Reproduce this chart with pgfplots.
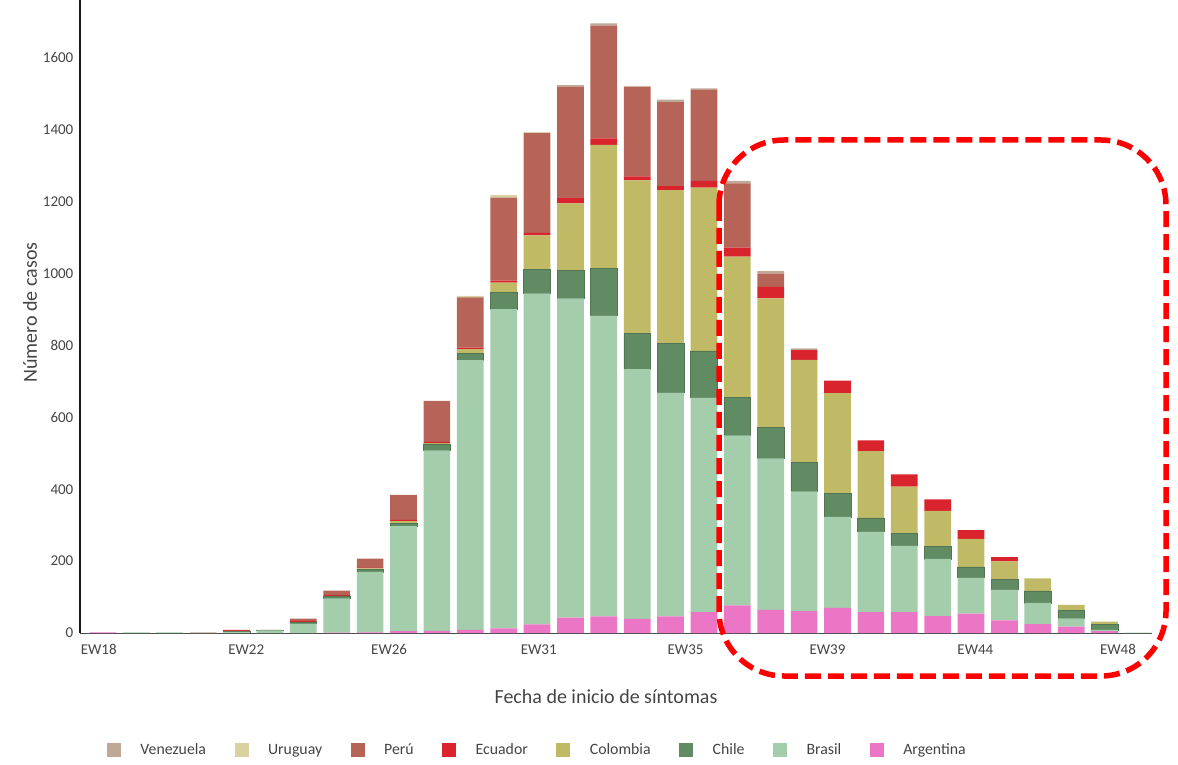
\documentclass[border=0pt]{standalone}
\usepackage{fontspec}
\setmainfont{Carlito}
\usepackage{pgfplots}
\usepackage{pgfplotstable}
\pgfplotsset{compat=1.18}

\definecolor{cven}{HTML}{BFA896}
\definecolor{curu}{HTML}{D9D19F}
\definecolor{cper}{HTML}{B56457}
\definecolor{cecu}{HTML}{D9242E}
\definecolor{ccol}{HTML}{C0BA66}
\definecolor{cchi}{HTML}{618B62}
\definecolor{cbra}{HTML}{A3CDAB}
\definecolor{carg}{HTML}{EB76C6}
\definecolor{txtgray}{HTML}{444444}

% casos por semana epidemiologica (k = 0 -> EW18)
\pgfplotstableread{
k  arg bra chi col ecu per uru ven
0  2   0   0   0   0   0   0   0
1  0   2   0   0   0   0   0   0
2  0   2   0   0   0   0   0   0
3  0   0   0   0   0   0   0   2
4  0   3   1   2   3   0   0   0
5  0   7   2   0   0   0   0   0
6  0   26  4   0   4   6   0   0
7  1   95  7   0   3   12  0   0
8  2   168 8   2   1   26  0   0
9  5   292 8   6   4   69  0   0
10 6   502 18  2   4   114 0   0
11 9   750 18  13  4   140 4   0
12 13  888 46  28  5   231 7   0
13 24  921 67  94  7   278 2   0
14 43  888 78  186 15  310 0   4
15 46  837 132 343 18  314 0   6
16 39  695 100 425 11  250 2   0
17 46  623 137 426 11  234 0   7
18 58  597 130 454 19  253 0   4
19 77  473 105 392 25  179 0   7
20 64  422 86  359 32  37  0   7
21 61  333 81  285 27  0   0   5
22 70  253 66  278 35  0   0   0
23 58  224 38  186 30  0   0   0
24 58  185 34  130 34  0   0   0
25 47  159 34  100 32  0   0   0
26 54  100 30  78  24  0   0   0
27 35  86  29  49  12  0   0   0
28 25  59  33  35  0   0   0   0
29 18  23  21  16  0   0   0   0
30 5   4   16  7   0   0   0   0
31 0   1   0   0   0   0   0   0
}\casos

\begin{document}
\begin{tikzpicture}[x=1pt,y=1pt]
\path[use as bounding box] (0,0) rectangle (1178,764);
\begin{axis}[
  at={(80pt,131pt)}, anchor=south west,
  width=1072pt, height=633pt, scale only axis,
  ybar stacked, bar width=0.8,
  xmin=-0.69, xmax=31.42, ymin=0, ymax=1761,
  axis lines=left,
  axis line style={-},
  x axis line style={draw=black!70, line width=1pt},
  y axis line style={draw=black!90, line width=1.2pt},
  tick style={draw=none},
  xtick={-0.13,4.29,8.57,13.05,17.45,21.7,26.13,30.4},
  xticklabels={EW18,EW22,EW26,EW31,EW35,EW39,EW44,EW48},
  ytick={0,200,...,1600},
  scaled y ticks=false,
  /pgf/number format/assume math mode=true,
  /pgf/number format/1000 sep={},
  tick label style={font=\fontsize{15}{18}\selectfont, text=txtgray},
  xticklabel style={yshift=-6pt},
  yticklabel style={xshift=-1pt},
  xlabel={Fecha de inicio de síntomas},
  ylabel={Número de casos},
  label style={font=\fontsize{20}{24}\selectfont, text=txtgray},
  xlabel style={at={(rel axis cs:0.4907,-0.101)}, anchor=center},
  ylabel style={at={(rel axis cs:-0.0466,0.506)}, anchor=center},
  legend image code/.code={\fill[#1, draw=none] (0pt,-7pt) rectangle (14pt,7pt);},
  reverse legend,
  legend columns=8,
  legend style={at={(rel axis cs:0.025,-0.1848)}, anchor=west, draw=none, fill=none,
    inner sep=0pt, font=\fontsize{15.8}{18}\selectfont, text=txtgray,
    nodes={inner xsep=0pt},
    /tikz/every odd column/.append style={column sep=19.5pt},
    /tikz/every even column/.append style={column sep=28.5pt}},
]
\addplot[fill=carg, draw=none] table[x=k, y=arg] {\casos};
\addplot[fill=cbra, draw=none] table[x=k, y=bra] {\casos};
\addplot[fill=cchi, draw=cchi!85!black, line width=0.5pt] table[x=k, y=chi] {\casos};
\addplot[fill=ccol, draw=none] table[x=k, y=col] {\casos};
\addplot[fill=cecu, draw=none] table[x=k, y=ecu] {\casos};
\addplot[fill=cper, draw=none] table[x=k, y=per] {\casos};
\addplot[fill=curu, draw=none] table[x=k, y=uru] {\casos};
\addplot[fill=cven, draw=none] table[x=k, y=ven] {\casos};
\legend{Argentina,Brasil,Chile,Colombia,Ecuador,Perú,Uruguay,Venezuela}
\end{axis}
\draw[red, line width=5.5pt, dash pattern=on 16pt off 7pt, rounded corners=65pt]
  (719,624) rectangle (1166,88);
\end{tikzpicture}
\end{document}
